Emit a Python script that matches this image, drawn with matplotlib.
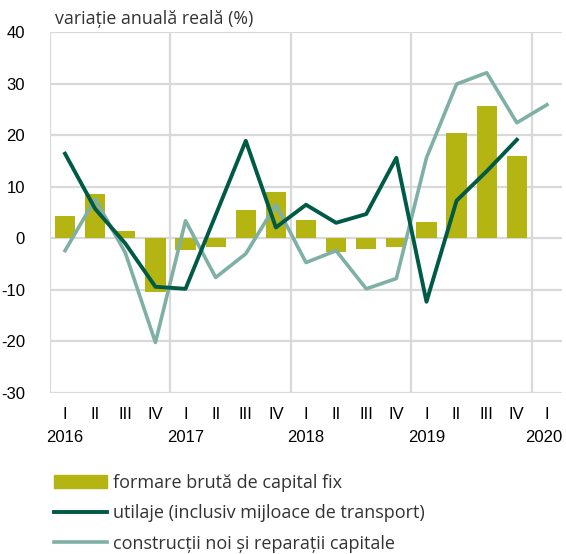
import numpy as np
import matplotlib
matplotlib.use("Agg")
import matplotlib.pyplot as plt
from matplotlib.patches import Patch
from matplotlib.lines import Line2D
import matplotlib.transforms as mtransforms

# quarters 2016 Q1 .. 2020 Q1
quarters = ["I", "II", "III", "IV"] * 4 + ["I"]
years = ["2016", "2017", "2018", "2019", "2020"]

# formare bruta de capital fix (2016 Q1 .. 2019 Q4)
fbcf = [4.3, 8.5, 1.5, -10.5, -2.3, -1.6, 5.4, 8.9,
        3.5, -2.7, -2.0, -1.6, 3.1, 20.5, 25.6, 15.9]
# utilaje (2016 Q1 .. 2019 Q4)
utilaje = [16.4, 5.7, -1.0, -9.4, -9.8, 4.5, 18.9, 2.1,
           6.5, 3.0, 4.7, 15.6, -12.3, 7.3, 13.0, 19.1]
# constructii noi (2016 Q1 .. 2020 Q1)
constructii = [-2.4, 7.6, -2.8, -20.2, 3.4, -7.6, -3.0, 6.5,
               -4.7, -2.4, -9.8, -7.8, 15.6, 29.9, 32.1, 22.4, 25.9]

c_bar = "#b4b412"
c_dark = "#005a46"
c_light = "#7fb0a5"
c_grid = "#d9d9d9"

tickfont = ["Liberation Sans", "DejaVu Sans"]
plain = ["Open Sans", "DejaVu Sans"]

fig = plt.figure(figsize=(5.66, 5.54), dpi=100)
ax = fig.add_axes([50 / 566, 1 - 393 / 554, 512 / 566, 361 / 554])

x_bar = np.arange(len(fbcf))
ax.bar(x_bar, fbcf, width=0.67, color=c_bar, zorder=2)
ax.plot(np.arange(len(utilaje)), utilaje, color=c_dark, lw=2.8, zorder=4)
ax.plot(np.arange(len(constructii)), constructii, color=c_light, lw=2.6, zorder=3)

ax.set_xlim(-0.5, 16.5)
ax.set_ylim(-30, 40)
ax.set_yticks(range(-30, 41, 10))
ax.set_yticklabels([str(v) for v in range(-30, 41, 10)], family=tickfont, fontsize=12)

ax.set_xticks(range(len(quarters)))
ax.set_xticklabels(quarters, family=tickfont, fontsize=12)
ax.tick_params(length=0, pad=10)
ax.tick_params(axis="y", pad=18)

# year labels under each first quarter
trans = mtransforms.blended_transform_factory(ax.transData, fig.transFigure)
for k, yr in enumerate(years):
    xq = 4 * k
    if k == len(years) - 1:
        ax.text(16.5, 1 - 438 / 554, yr, transform=trans, ha="right", va="center",
                family=tickfont, fontsize=12)
    else:
        ax.text(xq, 1 - 438 / 554, yr, transform=trans, ha="center", va="center",
                family=tickfont, fontsize=12)

for y in range(-30, 41, 10):
    ax.axhline(y, color=c_grid, lw=1.6, zorder=1)
for xv in [-0.5, 3.5, 7.5, 11.5, 15.5]:
    ax.axvline(xv, color=c_grid, lw=1.6, zorder=1)
for s in ax.spines.values():
    s.set_visible(False)

fig.text(55 / 566, 1 - 19 / 554, "variație anuală reală (%)", family=plain,
         fontsize=12.8, color="#333333", va="center")

handles = [Patch(color=c_bar),
           Line2D([], [], color=c_dark, lw=2.8),
           Line2D([], [], color=c_light, lw=2.6)]
names = ["formare brută de capital fix",
         "utilaje (inclusiv mijloace de transport)",
         "construcții noi și reparații capitale"]
fig.legend(handles, names, loc="upper left", bbox_to_anchor=(54 / 566, 1 - 474 / 554),
           frameon=False, prop={"family": plain, "size": 13}, labelcolor="#333333",
           handlelength=2.95, handleheight=0.7, handletextpad=0.33, labelspacing=0.68,
           borderpad=0, borderaxespad=0)

fig.savefig("out.png", dpi=100)
